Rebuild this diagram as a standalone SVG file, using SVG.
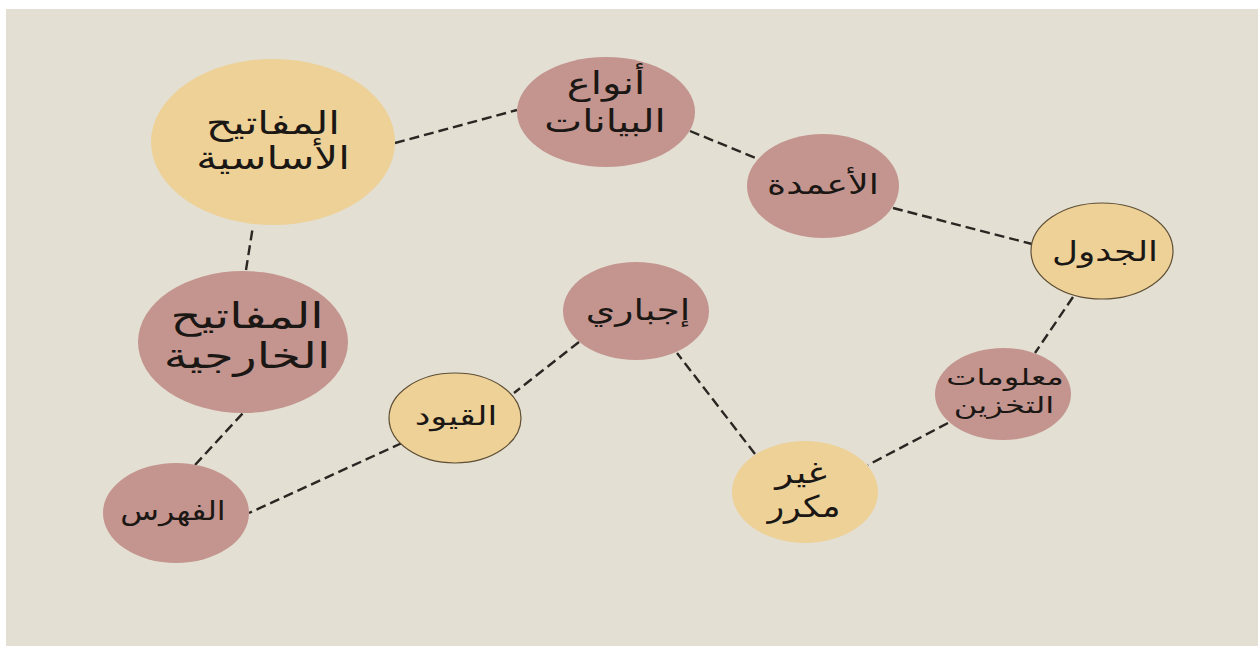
<svg xmlns="http://www.w3.org/2000/svg" width="1258" height="646" viewBox="0 0 1258 646">
<style>
.pink{fill:#c4958f}
.yellow{fill:#edd197}
.outl{stroke:#5e4e34;stroke-width:1.2}
.edge{stroke:#2a2622;stroke-width:2.4;stroke-dasharray:10 5;fill:none}
text{font-family:"DejaVu Sans",sans-serif;fill:#1b1714;text-anchor:middle}
</style>
<rect x="0" y="0" width="1258" height="646" fill="#ffffff"/>
<rect x="6" y="9" width="1252" height="637" fill="#e3dfd3"/>
<g id="connectors">
<line class="edge" x1="395" y1="143" x2="517" y2="110"/>
<line class="edge" x1="690" y1="131" x2="758" y2="159"/>
<line class="edge" x1="893" y1="208" x2="1032" y2="244"/>
<line class="edge" x1="1073" y1="297" x2="1035" y2="353"/>
<line class="edge" x1="948" y1="423" x2="868" y2="465"/>
<line class="edge" x1="755" y1="454" x2="677" y2="353"/>
<line class="edge" x1="579" y1="342" x2="514" y2="393"/>
<line class="edge" x1="402" y1="443" x2="249" y2="513"/>
<line class="edge" x1="195" y1="465" x2="243" y2="413"/>
<line class="edge" x1="246" y1="270" x2="253" y2="226"/>
</g>
<g id="primary-keys">
<ellipse class="yellow" cx="273" cy="142" rx="122" ry="83"/>
<text transform="translate(273 134) scale(1.31 1)" font-size="32">المفاتيح</text>
<text transform="translate(273 169) scale(1.31 1)" font-size="32">الأساسية</text>
</g>
<g id="data-types">
<ellipse class="pink" cx="606" cy="112" rx="89" ry="55"/>
<text transform="translate(606 94) scale(1.3 1)" font-size="31">أنواع</text>
<text transform="translate(605 132) scale(1.3 1)" font-size="31">البيانات</text>
</g>
<g id="columns">
<ellipse class="pink" cx="823" cy="186" rx="76" ry="52"/>
<text transform="translate(823 194) scale(1.3 1)" font-size="28">الأعمدة</text>
</g>
<g id="table">
<ellipse class="yellow outl" cx="1102" cy="251" rx="71" ry="48"/>
<text transform="translate(1105 261) scale(1.28 1)" font-size="28">الجدول</text>
</g>
<g id="storage-info">
<ellipse class="pink" cx="1003" cy="394" rx="68" ry="46"/>
<text transform="translate(1005 385) scale(1.4 1)" font-size="23">معلومات</text>
<text transform="translate(1004 413) scale(1.4 1)" font-size="23">التخزين</text>
</g>
<g id="not-duplicated">
<ellipse class="yellow" cx="805" cy="492" rx="73" ry="51"/>
<text transform="translate(801 483) scale(1.25 1)" font-size="30">غير</text>
<text transform="translate(804 517) scale(1.15 1)" font-size="30">مكرر</text>
</g>
<g id="mandatory">
<ellipse class="pink" cx="636" cy="311" rx="73" ry="49"/>
<text transform="translate(638 320) scale(1.3 1)" font-size="29">إجباري</text>
</g>
<g id="constraints">
<ellipse class="yellow outl" cx="455" cy="418" rx="66" ry="45"/>
<text transform="translate(456 425) scale(1.35 1)" font-size="26">القيود</text>
</g>
<g id="index">
<ellipse class="pink" cx="176" cy="513" rx="73" ry="50"/>
<text transform="translate(173 520) scale(1.22 1)" font-size="26">الفهرس</text>
</g>
<g id="foreign-keys">
<ellipse class="pink" cx="243" cy="342" rx="105" ry="71"/>
<text transform="translate(247 328) scale(1.37 1)" font-size="35">المفاتيح</text>
<text transform="translate(247 368) scale(1.37 1)" font-size="35">الخارجية</text>
</g>
</svg>
